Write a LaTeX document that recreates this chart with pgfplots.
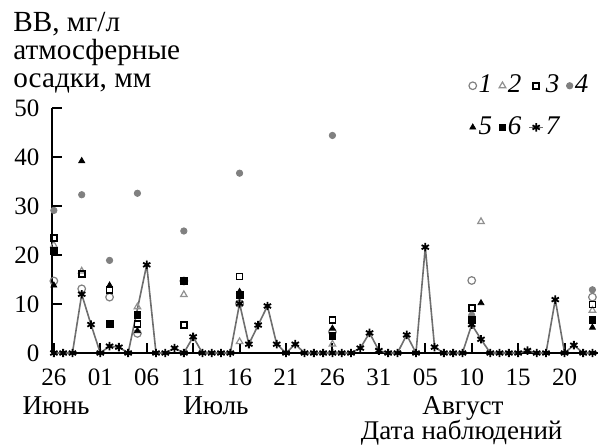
\documentclass[border=0pt]{standalone}
\usepackage{pgfplots}
\pgfplotsset{compat=1.18}
\usepackage{fontspec}
\setmainfont{Liberation Serif}
\definecolor{mgray}{RGB}{128,128,128}
\definecolor{lgray}{RGB}{145,145,145}
\definecolor{linegray}{RGB}{110,110,110}
\begin{document}
\fontsize{12.5bp}{15bp}\selectfont
\begin{tikzpicture}
\path[use as bounding box] (-26bp,-46bp) rectangle (275bp,176.5bp);
\begin{axis}[
 at={(0,0)}, anchor=south west,
 width=273bp, height=122.5bp, scale only axis,
 xmin=-0.2, xmax=58.6, ymin=0, ymax=50,
 axis x line*=bottom, axis y line*=left,
 xtick pos=bottom, ytick pos=left,
 axis line style={-, line width=1bp},
 tick align=inside, major tick length=5bp, tick style={black, line width=1bp},
 xtick={0,5,...,55}, xticklabels={26,01,06,11,16,21,26,31,05,10,15,20},
 ytick={0,10,...,50},
 /pgf/number format/assume math mode=true,
 xticklabel style={inner sep=1bp, yshift=-6.7bp},
 yticklabel style={xshift=-2bp},
 clip=false,
 legend columns=4,
 legend cell align=left,
 legend style={draw=none, fill=none, at={(0.752,1.161)}, anchor=north west,
   font=\fontsize{13.5bp}{16bp}\selectfont\itshape,
   nodes={inner sep=1bp}, row sep=8bp,
   /tikz/every even column/.append style={column sep=2.5bp}},
 legend image code/.code={\draw[mark repeat=2,mark phase=2,#1] plot coordinates {(0bp,0bp) (3.5bp,0bp) (7bp,0bp)};},
]
% 1 open circle gray
\addplot[only marks, mark=o, mark size=1.9bp, mgray, mark options={line width=0.6bp}]
 coordinates {(0,14.7) (3,13.1) (6,11.4) (9,4.0) (14,14.7) (20,10.1) (30,4.3) (45,14.8) (58,11.4)};
\addlegendentry{1}
% 2 open triangle gray
\addplot[only marks, mark=triangle, mark size=1.9bp, lgray, mark options={line width=0.6bp}]
 coordinates {(0,22.0) (3,16.7) (9,9.4) (14,11.9) (20,2.3) (30,1.8) (46,26.8) (58,8.7)};
\addlegendentry{2}
% 3 open square black
\addplot[only marks, mark=square, mark size=1.5bp, black, mark options={line width=0.9bp}]
 coordinates {(0,23.4) (3,16.1) (6,12.8) (9,5.9) (14,5.7) (20,15.6) (30,6.7) (45,9.2) (58,9.9)};
\addlegendentry{3}
% 4 filled circle gray
\addplot[only marks, mark=*, mark size=1.6bp, mgray, mark options={fill=mgray, draw=mgray}]
 coordinates {(0,29.1) (3,32.3) (6,18.9) (9,32.6) (14,24.9) (20,36.7) (30,44.4) (45,7.7) (58,12.9)};
\addlegendentry{4}
% 5 filled triangle black
\addplot[only marks, mark=triangle*, mark size=1.7bp, black]
 coordinates {(0,13.8) (3,39.2) (6,13.8) (9,4.5) (20,12.5) (30,5.0) (46,10.2) (58,5.2)};
\addlegendentry{5}
% 6 filled square black
\addplot[only marks, mark=square*, mark size=1.7bp, black]
 coordinates {(0,20.9) (6,5.9) (9,7.7) (14,14.7) (20,11.8) (30,3.5) (45,6.7) (58,6.8)};
\addlegendentry{6}
% 7 precipitation
\addplot[linegray, line width=0.8bp, mark=asterisk, mark size=2.1bp, mark options={black, line width=0.9bp, solid}]
 coordinates {(0,0) (1,0) (2,0) (3,12.0) (4,5.8) (5,0) (6,1.4) (7,1.2) (8,0) (10,18.0)
 (11,0) (12,0) (13,1.0) (14,0) (15,3.3) (16,0) (17,0) (18,0) (19,0) (20,10.1)
 (21,1.8) (22,5.7) (23,9.6) (24,1.8) (25,0) (26,1.8) (27,0) (28,0) (29,0) (30,0)
 (31,0) (32,0) (33,1.0) (34,4.1) (35,0.5) (36,0) (37,0) (38,3.7) (39,0) (40,21.6)
 (41,1.2) (42,0) (43,0) (44,0) (45,5.8) (46,2.8) (47,0) (48,0) (49,0) (50,0)
 (51,0.5) (52,0) (53,0) (54,10.9) (55,0) (56,1.6) (57,0) (58,0)};
\addlegendentry{7}
\begin{scope}[every node/.style={anchor=base, inner sep=0, font=\fontsize{13.6bp}{16bp}\selectfont}]
\node at (axis cs:0.23,-12.57) {Июнь};
\node at (axis cs:17.46,-12.57) {Июль};
\node at (axis cs:44.06,-12.57) {Август};
\node[font=\fontsize{13.5bp}{16bp}\selectfont] at (axis cs:43.92,-17.63) {Дата наблюдений};
\end{scope}
\end{axis}
\begin{scope}[every node/.style={anchor=base west, inner sep=0, font=\fontsize{14.6bp}{17bp}\selectfont}]
\node at (-19.5bp,160.5bp) {ВВ, мг/л};
\node at (-19.5bp,146.5bp) {атмосферные};
\node at (-19.5bp,132.5bp) {осадки, мм};
\end{scope}
\end{tikzpicture}
\end{document}
